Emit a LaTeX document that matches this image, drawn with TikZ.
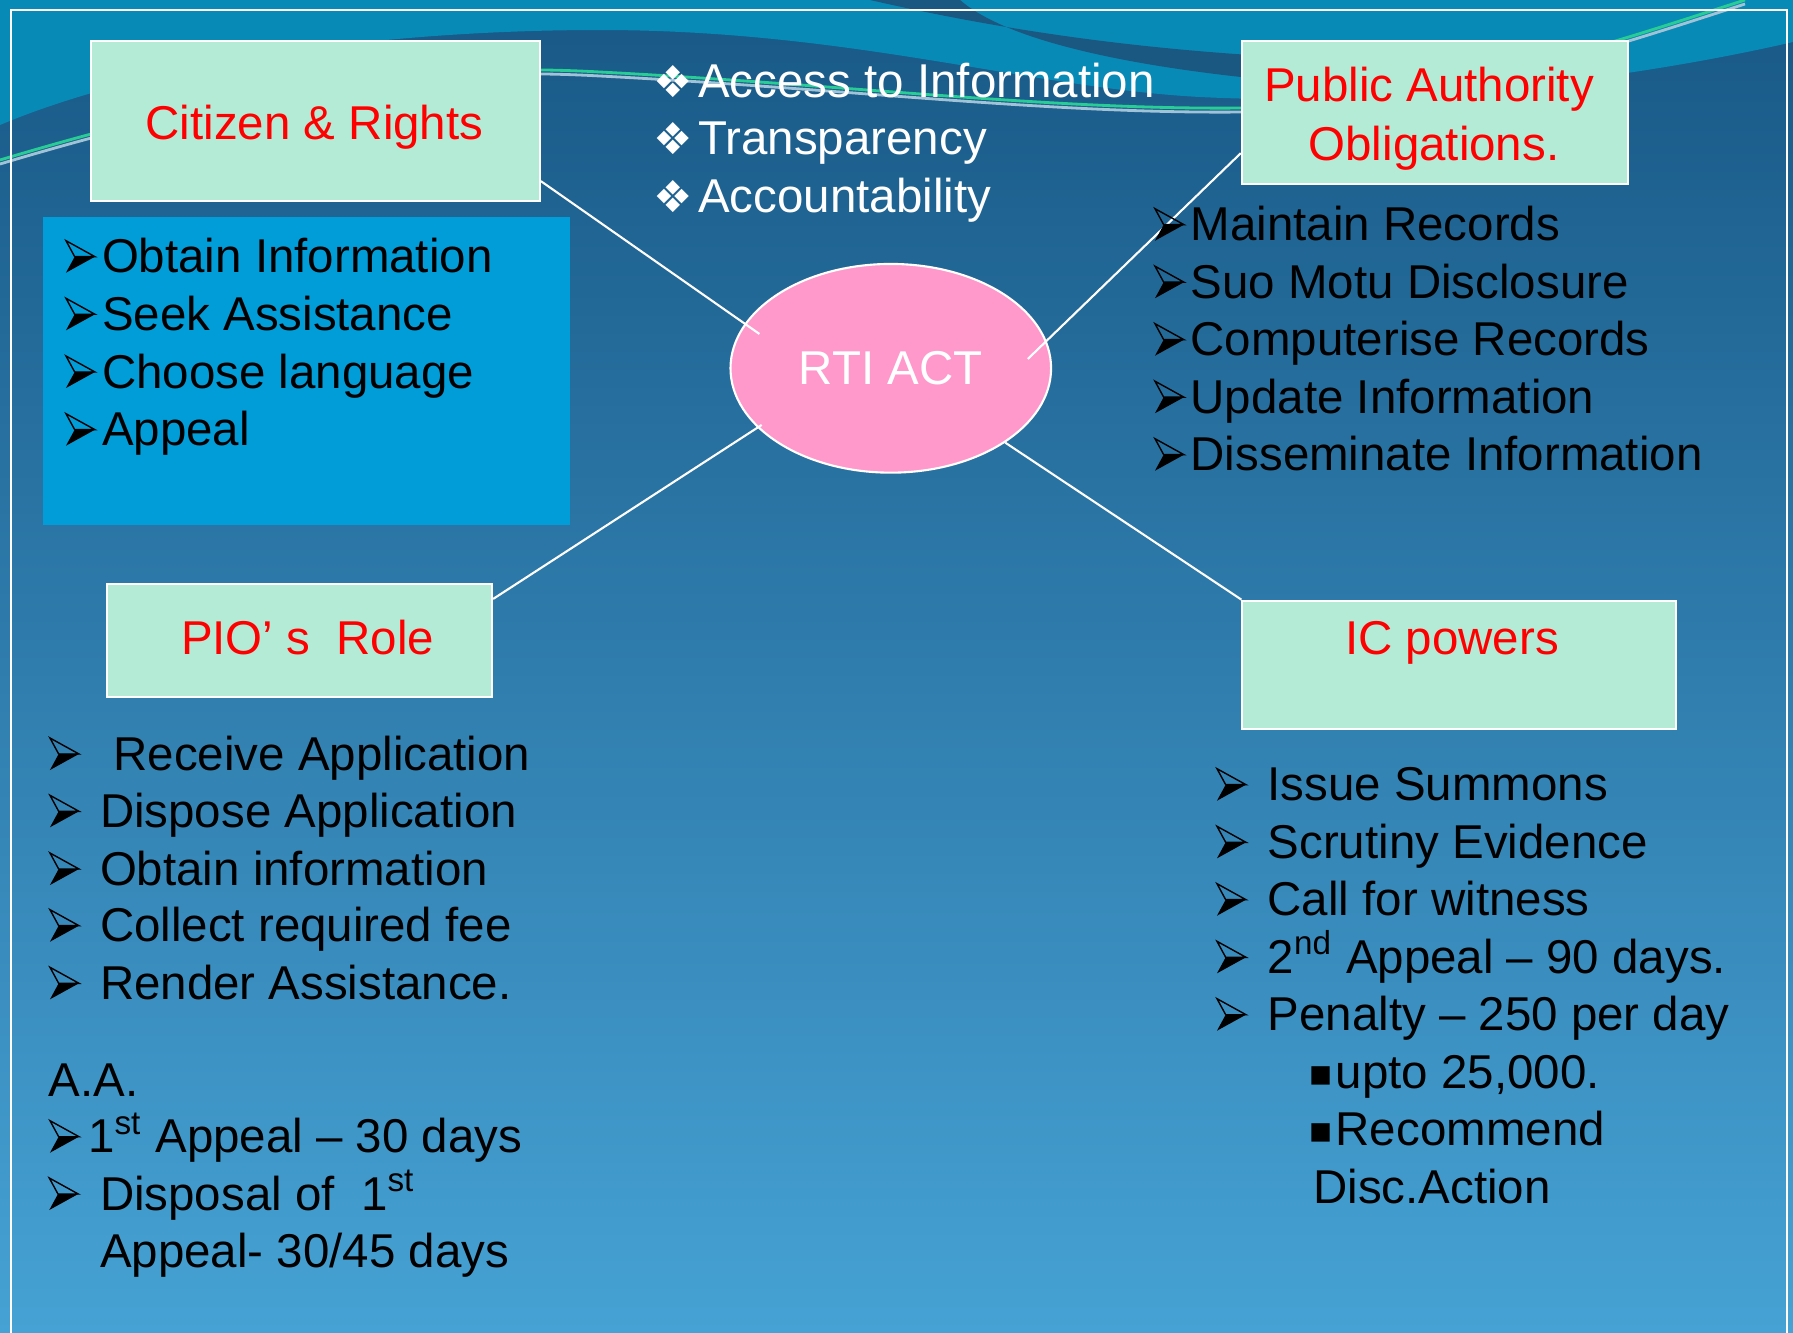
\documentclass[tikz,border=0pt]{standalone}
\usepackage{fontspec}
\setmainfont{Liberation Sans}
\newfontfamily\symfont{DejaVu Sans}
\usetikzlibrary{shapes.geometric}

\definecolor{bgtop}{RGB}{24,88,134}
\definecolor{bgbot}{RGB}{70,162,212}
\definecolor{wave}{RGB}{8,138,182}
\definecolor{darkwave}{RGB}{26,88,130}
\definecolor{boxgreen}{RGB}{179,235,215}
\definecolor{listblue}{RGB}{0,157,217}
\definecolor{rtipink}{RGB}{255,153,204}
\definecolor{wavegreen}{RGB}{40,205,150}
\definecolor{wavegray}{RGB}{160,195,215}

% bullets hang left of the text start
\newcommand{\arr}[1]{\llap{\tikz[baseline=0pt,x=0.29cm,y=0.32cm,line width=0.4pt,line join=miter]{%
		\draw (0,1)--(1,0.5)--(0.3,0.5)--cycle;
		\fill (0,0)--(1,0.5)--(0.3,0.5)--cycle;}\hspace{#1}}}
\newcommand{\dia}{\llap{{\symfont\fontsize{12.5}{12.5}\selectfont ❖}\hspace{1.6pt}}}
\newcommand{\sq}{\llap{\raisebox{0.8pt}{\symfont\fontsize{10.5}{10.5}\selectfont ▪}\hspace{0.6pt}}}

\begin{document}
\begin{tikzpicture}[x=0.01cm,y=-0.01cm,
	font=\fontsize{13.5}{16}\selectfont,
	hbox/.style={draw=white,line width=0.6pt,fill=boxgreen,inner sep=0pt},
	title/.style={text=red,anchor=base,inner sep=0pt},
	item/.style={anchor=base west,inner sep=0pt},
	link/.style={draw=white,line width=0.6pt}]
		\useasboundingbox (0,0) rectangle (1793,1333);
		\clip (0,0) rectangle (1793,1333);
		
		% background
		\shade[top color=bgtop,bottom color=bgbot] (0,0) rectangle (1793,1333);
		\fill[wave] (0,0)--(0,125) .. controls (150,62) and (380,30) .. (600,30)
		.. controls (850,30) and (1030,88) .. (1200,97)
		.. controls (1420,108) and (1650,75) .. (1793,42)--(1793,0)--cycle;
		\fill[darkwave] (870,0) .. controls (980,25) and (1100,45) .. (1250,55)
		--(1250,78) .. controls (1100,62) and (1000,35) .. (960,0)--cycle;
		\draw[wavegreen,line width=0.8pt] (0,160) .. controls (250,85) and (420,62) .. (600,72)
		.. controls (850,85) and (1050,110) .. (1242,108)
		.. controls (1450,100) and (1620,40) .. (1745,0);
		\draw[wavegray,line width=0.8pt,yshift=-0.4mm] (0,160) .. controls (250,85) and (420,62) .. (600,72)
		.. controls (850,85) and (1050,110) .. (1242,108)
		.. controls (1450,100) and (1620,40) .. (1745,0);
		\draw[white,line width=0.6pt] (11,10) rectangle (1787,1345);
		
		% boxes
		\node[hbox,minimum width=4.49cm,minimum height=1.603cm] (citbox) at (315.2,120.9) {};
		\node[fill=listblue,inner sep=0pt,minimum width=5.272cm,minimum height=3.083cm] (citback) at (306.4,370.9) {};
		\node[hbox,minimum width=3.86cm,minimum height=1.433cm] (pabox) at (1435,112.4) {};
		\node[hbox,minimum width=3.85cm,minimum height=1.13cm] (piobox) at (299.5,640.5) {};
		\node[hbox,minimum width=4.335cm,minimum height=1.286cm] (icbox) at (1459.3,665) {};
		\node[ellipse,draw=white,line width=0.6pt,fill=rtipink,text=white,inner sep=0pt,
		minimum width=3.204cm,minimum height=2.086cm] (rti) at (890.8,368.3) {RTI ACT};
		
		\draw[link,shorten >=-1.8mm] ([yshift=2.1mm]citbox.south east)--(rti.163);
		\draw[link,shorten >=-2.6mm] ([yshift=3.2mm]pabox.south west)--(rti.10);
		\draw[link,shorten >=-0.5mm] ([yshift=-1.6mm]piobox.north east)--(rti.204);
		\draw[link] (icbox.north west)--(rti.-33);
		
		% titles
		\node[title] (cittxt) at (314.5,139) {Citizen \& Rights};
		\node[title] (patxt) at (1429,101.7) {Public Authority};
		\node[title] (paobl) at (1434,160) {Obligations.};
		\node[title] (piotxt) at (307.7,654) {PIO’ s~ Role};
		\node[title] (ictxt) at (1452,654) {IC powers};
		
		% aims
		\node[item,text=white] (acc) at (697.6,97) {\dia Access to Information};
		\node[item,text=white] (tra) at (697.6,154.5) {\dia Transparency};
		\node[item,text=white] (acn) at (697.6,212) {\dia Accountability};
		
		% citizen
		\node[item] (ci1) at (101.3,272.7) {\arr{0.63mm}Obtain Information};
		\node[item] (ci2) at (101.3,330.3) {\arr{0.63mm}Seek Assistance};
		\node[item] (ci3) at (101.3,388) {\arr{0.63mm}Choose language};
		\node[item] (ci4) at (101.3,445.7) {\arr{0.63mm}Appeal};
		
		% public authority
		\node[item] (pa1) at (1190,240.7) {\arr{0.6mm}Maintain Records};
		\node[item] (pa2) at (1190,298.2) {\arr{0.6mm}Suo Motu Disclosure};
		\node[item] (pa3) at (1190,355.7) {\arr{0.6mm}Computerise Records};
		\node[item] (pa4) at (1190,413.2) {\arr{0.6mm}Update Information};
		\node[item] (pa5) at (1190,470.7) {\arr{0.6mm}Disseminate Information};
		
		% pio
		\node[item] (pi1) at (112.7,770) {\arr{3.37mm}Receive Application};
		\node[item] (pi2) at (99.3,827.3) {\arr{2.03mm}Dispose Application};
		\node[item] (pi3) at (99.3,885) {\arr{2.03mm}Obtain information};
		\node[item] (pi4) at (99.3,941.7) {\arr{2.03mm}Collect required fee};
		\node[item] (pi5) at (99.3,999.3) {\arr{2.03mm}Render Assistance.};
		
		% appellate authority
		\node[item] (aa) at (48,1096.7) {A.A.};
		\node[item] (aa1) at (87.5,1152.7) {\arr{0.85mm}1\textsuperscript{st} Appeal – 30 days};
		\node[item] (aa2) at (99.3,1210) {\arr{2.1mm}Disposal of~ 1\textsuperscript{st}};
		\node[item] (aa3) at (99.3,1267.3) {Appeal- 30/45 days};
		
		% ic
		\node[item] (ic1) at (1267,800.7) {\arr{2.1mm}Issue Summons};
		\node[item] (ic2) at (1267,858.3) {\arr{2.1mm}Scrutiny Evidence};
		\node[item] (ic3) at (1267,915.7) {\arr{2.1mm}Call for witness};
		\node[item] (ic4) at (1267,973.3) {\arr{2.1mm}2\textsuperscript{nd} Appeal – 90 days.};
		\node[item] (ic5) at (1267,1030.7) {\arr{2.1mm}Penalty – 250 per day};
		\node[item] (ic6) at (1335,1088.3) {\sq upto 25,000.};
		\node[item] (ic7) at (1335,1145.7) {\sq Recommend};
		\node[item] (ic8) at (1312.5,1203.3) {Disc.Action};
\end{tikzpicture}
\end{document}
